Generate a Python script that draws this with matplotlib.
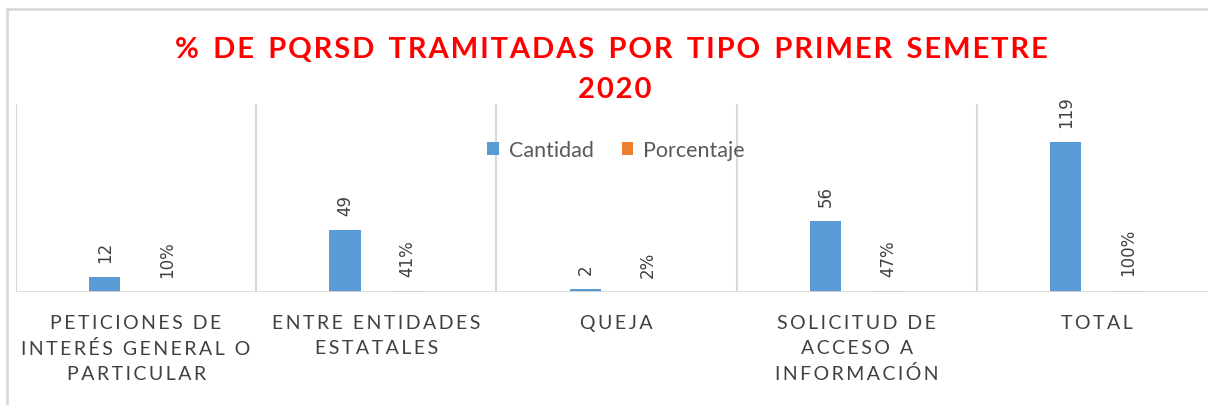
import numpy as np
import matplotlib.pyplot as plt
from matplotlib.patches import Rectangle

# datos
categorias = ['PETICIONES DE\nINTERÉS GENERAL O\nPARTICULAR', 'ENTRE ENTIDADES\nESTATALES', 'QUEJA',
              'SOLICITUD DE\nACCESO A\nINFORMACIÓN', 'TOTAL']
cantidad = [12, 49, 2, 56, 119]
porcentaje = [0.10, 0.41, 0.02, 0.47, 1.00]

azul = '#5b9bd5'
naranja = '#ed7d31'
gris = '#d9d9d9'
texto = '#404040'


def espaciar(s, sep='\u2009'):
    """letter spacing a la Excel"""
    lineas = []
    for lin in s.split('\n'):
        palabras = [sep.join(p) for p in lin.split(' ')]
        lineas.append('  '.join(palabras))
    return '\n'.join(lineas)


fig = plt.figure(figsize=(12.08, 4.06), dpi=100)
W, H = 1208, 406
ax = fig.add_axes([16 / W, 113 / H, 1201 / W, 188 / H])

x = np.arange(len(categorias))
w = 0.13
b1 = ax.bar(x - w, cantidad, w, color=azul, label='Cantidad')
b2 = ax.bar(x + w, porcentaje, w, color=naranja, label='Porcentaje')

ax.set_xlim(-0.5, len(categorias) - 0.5)
ax.set_ylim(0, 149)

# lineas de division entre categorias, eje encima de las barras
ax.vlines(np.arange(len(categorias)) - 0.5, 0, 149, color=gris, lw=1.5, zorder=0)
ax.axhline(0, color=gris, lw=2, zorder=3)

for s in ax.spines.values():
    s.set_visible(False)
ax.set_yticks([])
ax.set_xticks(x)
ax.set_xticklabels([espaciar(c) for c in categorias], fontsize=14, family='Lato',
                   color=texto, linespacing=1.55)
ax.tick_params(axis='x', length=0, pad=16)

for xi, v in zip(x, cantidad):
    ax.annotate(str(v), (xi - w, v), xytext=(0, 11), textcoords='offset points',
                rotation=90, ha='center', va='bottom', fontsize=12, color=texto)
for xi, v in zip(x, porcentaje):
    ax.annotate('{:.0%}'.format(v), (xi + w, v), xytext=(0, 11), textcoords='offset points',
                rotation=90, ha='center', va='bottom', fontsize=12, color=texto)

leg = ax.legend(loc='center', bbox_to_anchor=(616 / W, 1 - 151 / H), bbox_transform=fig.transFigure,
                ncol=2, frameon=False, handlelength=0.55, handleheight=0.55,
                handletextpad=0.45, columnspacing=1.3, prop={'family': 'Lato', 'size': 15.5})
for t in leg.get_texts():
    t.set_color('#595959')

fig.text(611 / W, 1 - 50 / H, espaciar('% DE PQRSD TRAMITADAS POR TIPO PRIMER SEMETRE', '\u200a'),
         ha='center', va='center', fontsize=21, fontweight='bold', family='Lato', color='#ff0000')
fig.text(615 / W, 1 - 90 / H, espaciar('2020', '\u200a'),
         ha='center', va='center', fontsize=21, fontweight='bold', family='Lato', color='#ff0000')

# borde del grafico
fig.patches.append(Rectangle((7 / W, -0.1), 1.1, 1 - 10 / H + 0.1, transform=fig.transFigure,
                             fill=False, ec=gris, lw=2))

fig.savefig('out.png', dpi=100)
